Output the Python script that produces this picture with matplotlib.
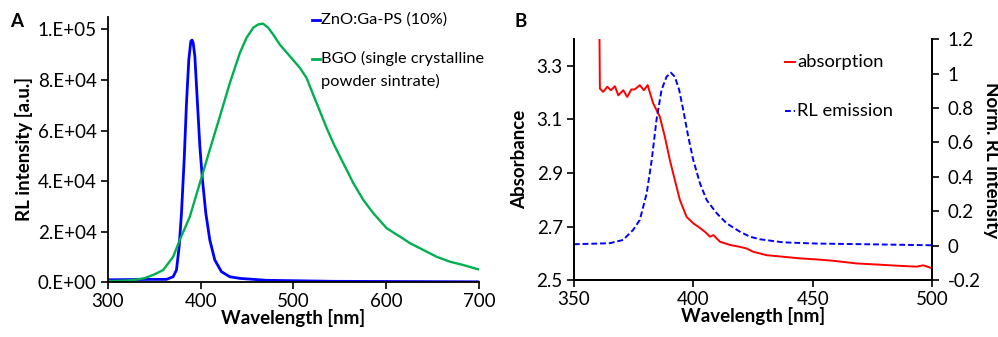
import numpy as np
import matplotlib
matplotlib.use("Agg")
import matplotlib.pyplot as plt

plt.rcParams['font.family'] = ['Lato', 'DejaVu Sans']
plt.rcParams['axes.unicode_minus'] = False

# Panel A: RL spectra
zno_wl = [300, 330, 345.3, 363.3, 370.4, 374, 376.9, 379.4, 382.3, 384.8, 387.3, 389.5, 390.8, 392,
          393.8, 396.6, 399.2, 402, 405.6, 409.9, 415.3, 422.5, 431.5, 442.3, 471, 543, 700]
zno_rl = [900, 1000, 1070, 1070, 2100, 4760, 14000, 27300, 48400, 70900, 88100, 95400, 95800,
          94700, 89400, 70900, 53700, 40500, 27300, 16700, 8730, 4100, 2100, 1460, 700, 300, 100]

bgo_wl = [300, 320, 330, 340, 350, 359.7, 370.4, 377.6, 388.4, 399.2, 409.9, 420.8, 431.5, 442.3,
          449.5, 456.7, 462, 467.4, 472.8, 478.2, 485.4, 496.2, 507, 514.2, 521.3, 528.6, 535.8,
          543, 550.1, 557.4, 564.5, 575.3, 586, 600.5, 614.8, 625.6, 640, 654.4, 668.7, 683, 699.2]
bgo_rl = [400, 600, 900, 1600, 3000, 4760, 10000, 16700, 25900, 39200, 52400, 65600, 78800, 90700,
          96700, 100700, 102000, 102300, 100700, 98000, 94000, 89400, 84800, 80800, 74200, 67600,
          61000, 55000, 49700, 44400, 39200, 32500, 27300, 21300, 18000, 15400, 12700, 10000, 8060,
          6750, 5040]

a_yticks = [0, 20000, 40000, 60000, 80000, 100000]
a_yticklabels = ["0.E+00", "2.E+04", "4.E+04", "6.E+04", "8.E+04", "1.E+05"]
a_xticks = [300, 400, 500, 600, 700]

# Panel B: absorption vs normalized RL emission
abs_wl = [360.7, 360.9, 362.3, 364, 365.5, 367.2, 368.6, 370.7, 372.3, 374.1, 375.5, 377.6, 379.3,
          380.9, 383.2, 386, 388.1, 390.2, 392.3, 394.4, 397.2, 400, 402.1, 404.9, 407, 408.4,
          411.2, 415.4, 419.5, 422.3, 425, 430.6, 437.6, 444.6, 451.6, 458.6, 468.4, 476.7, 486.5,
          493.5, 496.3, 500]
abs_val = [3.45, 3.215, 3.203, 3.222, 3.209, 3.224, 3.19, 3.209, 3.184, 3.212, 3.212, 3.228, 3.209,
           3.228, 3.160, 3.110, 3.035, 2.948, 2.873, 2.799, 2.736, 2.712, 2.699, 2.680, 2.662, 2.668,
           2.643, 2.631, 2.624, 2.618, 2.606, 2.593, 2.587, 2.581, 2.577, 2.572, 2.562, 2.558, 2.553,
           2.55, 2.555, 2.544]

rl_wl = [350, 365, 370.6, 374.8, 377.6, 380.5, 382.6, 384.6, 386.7, 388.8, 390.6, 392.3, 394.1,
         395.8, 397.9, 400, 402.8, 405.6, 409.8, 414, 419.5, 423.7, 427.9, 437.6, 451.6, 472.5, 500]
rl_norm = [0.008, 0.014, 0.033, 0.091, 0.149, 0.304, 0.497, 0.730, 0.904, 0.981, 1.005, 0.981,
           0.904, 0.788, 0.633, 0.497, 0.362, 0.265, 0.188, 0.129, 0.081, 0.052, 0.037, 0.019,
           0.012, 0.008, 0.002]

b_xticks = [350, 400, 450, 500]
b_yticks = [2.5, 2.7, 2.9, 3.1, 3.3]
b_y2ticks = [-0.2, 0, 0.2, 0.4, 0.6, 0.8, 1.0, 1.2]
b_y2ticklabels = ["-0.2", "0", "0.2", "0.4", "0.6", "0.8", "1", "1.2"]

BLUE = "#0000ff"
GREEN = "#00b050"
RED = "#ff0000"

fig = plt.figure(figsize=(9.98, 3.37), dpi=100)
axA = fig.add_axes([0.108, 0.163, 0.372, 0.787])
axB = fig.add_axes([0.575, 0.169, 0.359, 0.715])


def style_axis(ax):
    ax.spines['top'].set_visible(False)
    ax.tick_params(direction='out', length=5, width=1.2, labelsize=13.5, pad=3)
    for s in ax.spines.values():
        s.set_linewidth(1.3)


# ---- Panel A ----
axA.plot(zno_wl, zno_rl, color=BLUE, lw=2)
axA.plot(bgo_wl, bgo_rl, color=GREEN, lw=1.7)
axA.set_xlim(300, 700)
axA.set_ylim(0, 105000)
axA.set_xticks(a_xticks)
axA.set_yticks(a_yticks)
axA.set_yticklabels(a_yticklabels)
style_axis(axA)
axA.spines['right'].set_visible(False)
axA.set_xlabel("Wavelength [nm]", fontsize=13.5, fontweight='bold', labelpad=-1)
axA.set_ylabel("RL intensity [a.u.]", fontsize=13.5, fontweight='bold', labelpad=3)

# legend drawn by hand so the handle sits on the first text line
axA.plot([0.550, 0.572], [0.989, 0.989], color=BLUE, lw=2, transform=axA.transAxes, clip_on=False)
axA.text(0.574, 0.989, "ZnO:Ga-PS (10%)", transform=axA.transAxes, va='center', fontsize=11.8)
axA.plot([0.550, 0.572], [0.842, 0.842], color=GREEN, lw=2, transform=axA.transAxes, clip_on=False)
axA.text(0.574, 0.842, "BGO (single crystalline", transform=axA.transAxes, va='center', fontsize=11.8)
axA.text(0.574, 0.758, "powder sintrate)", transform=axA.transAxes, va='center', fontsize=11.8)

fig.text(0.010, 0.935, "A", fontsize=13.5, fontweight='bold', va='center')

# ---- Panel B ----
axB.plot(abs_wl, abs_val, color=RED, lw=1.4)
axB.set_xlim(350, 500)
axB.set_ylim(2.5, 3.4)
axB.set_xticks(b_xticks)
axB.set_yticks(b_yticks)
style_axis(axB)
axB.set_xlabel("Wavelength [nm]", fontsize=13.5, fontweight='bold', labelpad=-1)
axB.set_ylabel("Absorbance", fontsize=13.5, fontweight='bold', labelpad=6)

axB2 = axB.twinx()
axB2.plot(rl_wl, rl_norm, color=BLUE, lw=1.4, ls=(0, (3, 1.5)))
axB2.set_ylim(-0.2, 1.2)
axB2.set_yticks(b_y2ticks)
axB2.set_yticklabels(b_y2ticklabels)
style_axis(axB2)
axB2.tick_params(axis='y', pad=6)
axB2.set_ylabel("Norm. RL intensity", fontsize=13.5, fontweight='bold', rotation=270, labelpad=14)

axB.plot([0.589, 0.617], [0.905, 0.905], color=RED, lw=1.4, transform=axB.transAxes, clip_on=False)
axB.text(0.623, 0.905, "absorption", transform=axB.transAxes, va='center', fontsize=13.2)
axB.plot([0.589, 0.617], [0.701, 0.701], color=BLUE, lw=1.4, ls=(0, (3, 1.5)),
         transform=axB.transAxes, clip_on=False)
axB.text(0.623, 0.701, "RL emission", transform=axB.transAxes, va='center', fontsize=13.2)

fig.text(0.516, 0.935, "B", fontsize=13.5, fontweight='bold', va='center')

fig.savefig("out.png", dpi=100)
